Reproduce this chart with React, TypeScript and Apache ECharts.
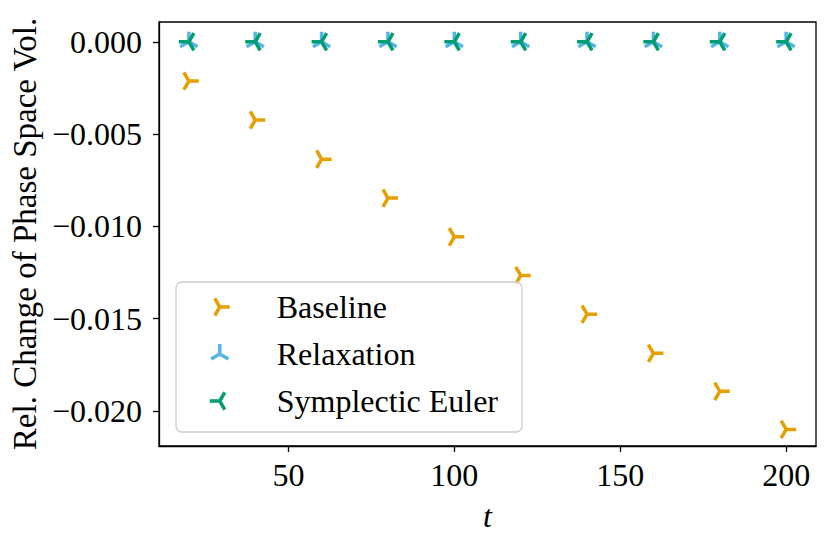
import React, { useEffect, useRef } from "react";
import * as echarts from "echarts";

const tValues = [20, 40, 60, 80, 100, 120, 140, 160, 180, 200];
const baseline = [-0.00213, -0.00424, -0.00636, -0.00847, -0.01057, -0.01266, -0.01476, -0.01688, -0.01894, -0.02100];
const relaxation = [0, 0, 0, 0, 0, 0, 0, 0, 0, 0];
const symplectic = [0, 0, 0, 0, 0, 0, 0, 0, 0, 0];
const xTicks = [50, 100, 150, 200];
const yTicks = [0, -0.005, -0.01, -0.015, -0.02];

const COLORS = { baseline: "#E69F00", relaxation: "#56B4E9", symplectic: "#009E73" };
const FONT = "Liberation Serif";

// tri markers (with invisible moveTo padding to keep the centre at the data point)
const TRI_RIGHT = "path://M-1 -1 M1 1 M0 0 L1 0 M0 0 L-0.5 0.866 M0 0 L-0.5 -0.866";
const TRI_UP = "path://M-1 -1 M1 1 M0 0 L0 -1 M0 0 L-0.866 0.5 M0 0 L0.866 0.5";
const TRI_LEFT = "path://M-1 -1 M1 1 M0 0 L-1 0 M0 0 L0.5 -0.866 M0 0 L0.5 0.866";

const pairs = (ys: number[]) => tValues.map((t, i) => [t, ys[i]]);

const fmtY = (v: number) => {
  const r = Math.round(v * 1000) / 1000;
  if (Math.abs(r) < 1e-9) return "0.000";
  return (r < 0 ? "\u2212" : "") + Math.abs(r).toFixed(3);
};

export default function App() {
  const ref = useRef<HTMLDivElement>(null);
  useEffect(() => {
    if (!ref.current) return;
    const chart = echarts.init(ref.current, null, { renderer: "svg" });
    const mkSeries = (name: string, data: number[], symbol: string, color: string) => ({
      name,
      type: "scatter",
      data: pairs(data),
      symbol,
      symbolSize: 20,
      symbolKeepAspect: true,
      itemStyle: { color: "rgba(0,0,0,0)", borderColor: color, borderWidth: 3.5, borderCap: "butt", opacity: 1 },
      emphasis: { disabled: true },
    });
    chart.setOption({
      animation: false,
      backgroundColor: "#fff",
      textStyle: { fontFamily: FONT },
      grid: {
        left: 151,
        top: 14,
        right: 7,
        bottom: 94,
        show: true,
        borderColor: "#000",
        borderWidth: 1.3,
        containLabel: false,
        outerBoundsMode: "none",
      },
      legend: {
        orient: "vertical",
        left: 168,
        top: 274,
        padding: [7, 24, 13, 32],
        itemGap: 11,
        itemWidth: 20,
        itemHeight: 20,
        backgroundColor: "rgba(255,255,255,0.8)",
        borderColor: "#cccccc",
        borderWidth: 1.3,
        borderRadius: 6,
        itemStyle: { borderWidth: 3.5, opacity: 1 },
        textStyle: {
          fontFamily: FONT,
          fontSize: 32,
          color: "#000",
          padding: [0, 0, 0, 42],
          lineHeight: 36,
        },
        data: ["Baseline", "Relaxation", "Symplectic Euler"],
      },
      xAxis: {
        type: "value",
        min: 11,
        max: 209,
        name: "t",
        nameLocation: "middle",
        nameGap: 54,
        nameTextStyle: { fontFamily: FONT, fontSize: 32, fontStyle: "italic", color: "#000" },
        splitLine: { show: false },
        axisLine: { show: true, onZero: false, lineStyle: { color: "#000", width: 1.3 } },
        axisTick: { show: true, length: 6, lineStyle: { color: "#000", width: 1.3 }, customValues: xTicks },
        axisLabel: {
          fontFamily: FONT,
          fontSize: 32,
          color: "#000",
          margin: 13,
          customValues: xTicks,
          formatter: (v: number) => String(v),
        },
      },
      yAxis: {
        type: "value",
        min: -0.0219,
        max: 0.00107,
        name: "Rel. Change of Phase Space Vol.",
        nameLocation: "middle",
        nameGap: 115,
        nameTextStyle: { fontFamily: FONT, fontSize: 33, color: "#000" },
        splitLine: { show: false },
        axisLine: { show: true, onZero: false, lineStyle: { color: "#000", width: 1.3 } },
        axisTick: { show: true, length: 6, lineStyle: { color: "#000", width: 1.3 }, customValues: yTicks },
        axisLabel: {
          fontFamily: FONT,
          fontSize: 32,
          color: "#000",
          margin: 17,
          customValues: yTicks,
          formatter: fmtY,
        },
      },
      series: [
        mkSeries("Baseline", baseline, TRI_RIGHT, COLORS.baseline),
        mkSeries("Relaxation", relaxation, TRI_UP, COLORS.relaxation),
        mkSeries("Symplectic Euler", symplectic, TRI_LEFT, COLORS.symplectic),
      ],
    });
    return () => chart.dispose();
  }, []);
  return <div ref={ref} style={{ width: 815, height: 532 }} />;
}
